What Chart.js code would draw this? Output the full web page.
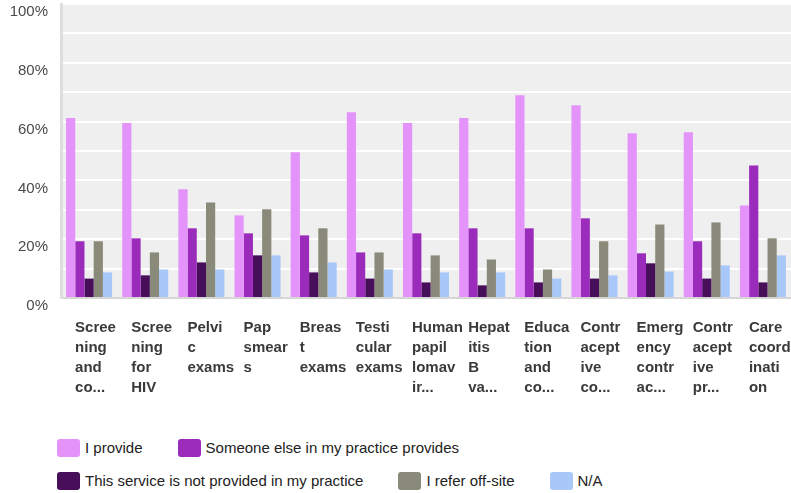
<!DOCTYPE html>
<html>
<head>
<meta charset="utf-8">
<script src="https://cdn.jsdelivr.net/npm/chart.js@4.4.0/dist/chart.umd.min.js"></script>
<style>
  body { margin: 0; background: #fff; font-family: 'Liberation Sans', Arial, sans-serif; }
  #wrap { position: relative; width: 791px; height: 400px; }
  #legend {
    position: absolute; left: 57px; top: 439px; width: 640px;
    display: flex; flex-wrap: wrap; column-gap: 35px; row-gap: 15px;
  }
  .item { display: flex; align-items: center; height: 18px; }
  .box { width: 23px; height: 18px; border-radius: 3px; margin-right: 5px; }
  .txt { font-size: 15px; line-height: 18px; color: #222; white-space: nowrap; }
</style>
</head>
<body>
<div id="wrap"><canvas id="chart"></canvas></div>
<div id="legend"></div>
<script>
const categories = [
    ['Scree', 'ning', 'and', 'co...'],
    ['Scree', 'ning', 'for', 'HIV'],
    ['Pelvi', 'c', 'exams'],
    ['Pap', 'smear', 's'],
    ['Breas', 't', 'exams'],
    ['Testi', 'cular', 'exams'],
    ['Human', 'papil', 'lomav', 'ir...'],
    ['Hepat', 'itis', 'B', 'va...'],
    ['Educa', 'tion', 'and', 'co...'],
    ['Contr', 'acept', 'ive', 'co...'],
    ['Emerg', 'ency', 'contr', 'ac...'],
    ['Contr', 'acept', 'ive', 'pr...'],
    ['Care', 'coord', 'inati', 'on']
];

const seriesNames = ['I provide', 'Someone else in my practice provides', 'This service is not provided in my practice', 'I refer off-site', 'N/A'];
const iProvide     = [61.2, 59.5, 37.0, 28.1, 49.6, 63.2, 59.5, 61.2, 69.0, 65.6, 56.0, 56.4, 31.5];
const someoneElse  = [19.3, 20.3, 23.7, 22.0, 21.3, 15.5, 22.0, 23.7, 23.7, 27.1, 15.2, 19.3, 45.1];
const notProvided  = [6.6, 7.7, 12.1, 14.5, 8.7, 6.6, 5.3, 4.3, 5.3, 6.6, 11.8, 6.6, 5.3];
const referOffsite = [19.3, 15.5, 32.5, 30.2, 23.7, 15.5, 14.5, 13.1, 9.7, 19.3, 25.0, 25.7, 20.3];
const notApplicable = [8.7, 9.7, 9.7, 14.5, 12.1, 9.7, 8.7, 8.7, 6.6, 7.7, 9.0, 11.1, 14.5];

const yTicks = [0, 20, 40, 60, 80, 100];
const colors = ['#e393fa', '#9b2bbb', '#470e5a', '#8a8a7a', '#a8c8fa'];

const values = [iProvide, someoneElse, notProvided, referOffsite, notApplicable];

// grey plot background behind the grid
const plotBg = {
    id: 'plotBg',
    beforeDraw(chart) {
        const a = chart.chartArea;
        const ctx = chart.ctx;
        ctx.save();
        ctx.fillStyle = '#efefef';
        ctx.fillRect(a.left, a.top, a.right - a.left, a.bottom - a.top);
        ctx.restore();
    }
};

const ctx = document.getElementById('chart').getContext('2d');
const chart = new Chart(ctx, {
    type: 'bar',
    data: {
        labels: categories,
        datasets: values.map((v, i) => ({
            label: seriesNames[i],
            data: v,
            backgroundColor: colors[i],
            borderWidth: 0,
            categoryPercentage: 0.82,
            barPercentage: 1.0
        }))
    },
    options: {
        responsive: true,
        maintainAspectRatio: false,
        animation: false,
        layout: { padding: { top: 4, right: 0, bottom: 2, left: 0 } },
        plugins: {
            legend: { display: false },
            tooltip: { enabled: false }
        },
        scales: {
            x: {
                grid: { display: false, drawTicks: false },
                border: { display: true, color: '#d6d6d6', width: 2 },
                ticks: {
                    autoSkip: false,
                    maxRotation: 0,
                    align: 'start',
                    labelOffset: -14,
                    padding: 20,
                    color: '#3a3a3a',
                    font: { family: "'Liberation Sans', Arial, sans-serif", size: 15, weight: 'bold', lineHeight: 1.333 }
                },
                afterFit(scale) {
                    scale.paddingLeft = 0;
                    scale.paddingRight = 0;
                    scale.height = 100;
                }
            },
            y: {
                min: 0,
                max: 100,
                grid: { color: '#ffffff', lineWidth: 2, drawTicks: false },
                border: { display: true, color: '#dedede', width: 3 },
                ticks: {
                    stepSize: 10,
                    padding: 13,
                    labelOffset: 8,
                    color: '#4a4a4a',
                    font: { family: "'Liberation Sans', Arial, sans-serif", size: 15 },
                    callback: (v) => yTicks.includes(v) ? v + '%' : ''
                },
                afterFit(scale) {
                    scale.width = 61;
                    scale.paddingTop = 0;
                    scale.paddingBottom = 0;
                }
            }
        }
    },
    plugins: [plotBg]
});

// html legend from the datasets
const legend = document.getElementById('legend');
chart.data.datasets.forEach((ds) => {
    const item = document.createElement('div');
    item.className = 'item';
    const box = document.createElement('div');
    box.className = 'box';
    box.style.background = ds.backgroundColor;
    const txt = document.createElement('span');
    txt.className = 'txt';
    txt.textContent = ds.label;
    item.appendChild(box);
    item.appendChild(txt);
    legend.appendChild(item);
});
</script>
</body>
</html>
